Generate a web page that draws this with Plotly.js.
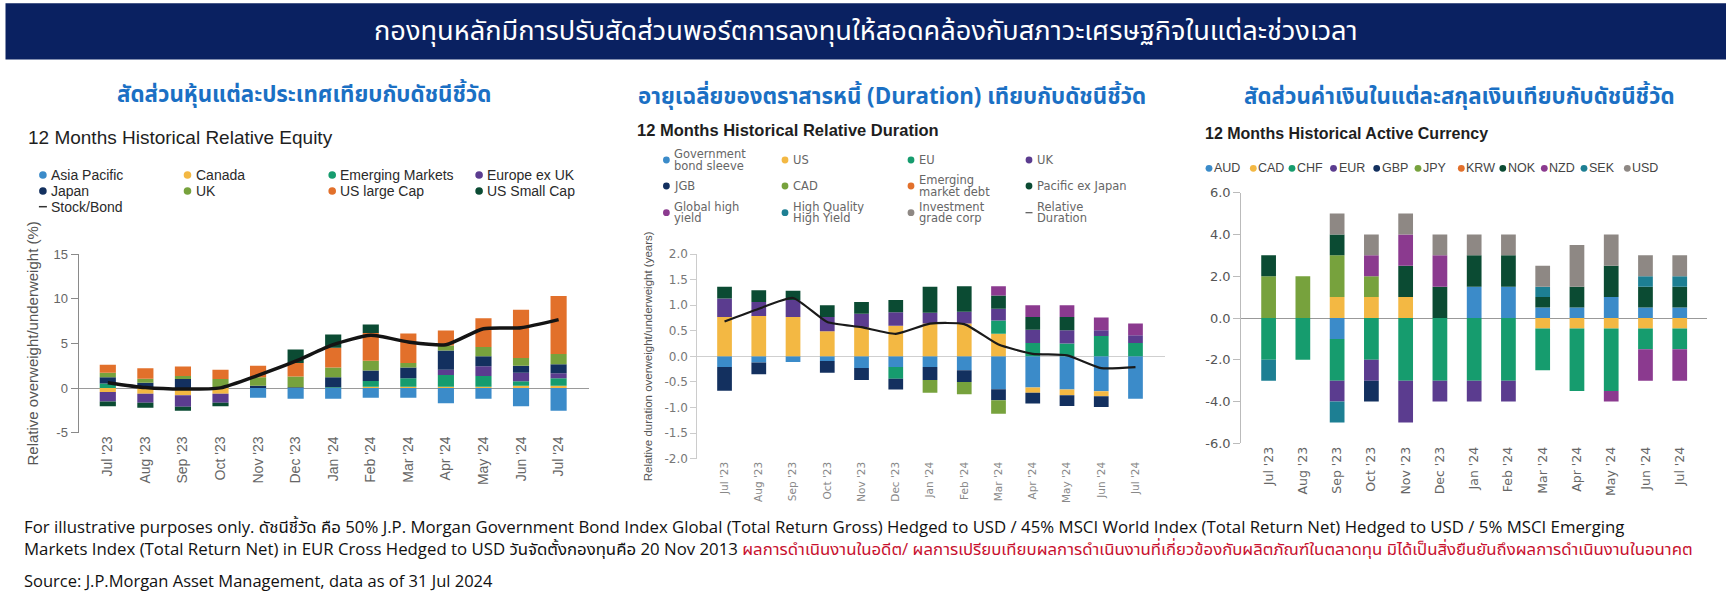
<!DOCTYPE html>
<html>
<head>
<meta charset="utf-8">
<script src="https://cdn.plot.ly/plotly-3.0.1.min.js"></script>
<style>
html,body{margin:0;padding:0;background:#ffffff;}
#chart{width:1732px;height:592px;}
</style>
</head>
<body>
<div id="chart"></div>
<script>
// ---------------- DATA ----------------
const months = ["Jul '23","Aug '23","Sep '23","Oct '23","Nov '23","Dec '23","Jan '24","Feb '24","Mar '24","Apr '24","May '24","Jun '24","Jul '24"];

// Chart 1: 12 Months Historical Relative Equity (%)
const eqNames = ["Asia Pacific","Canada","Emerging Markets","Europe ex UK","Japan","UK","US large Cap","US Small Cap"];
const eqAsiaPacific = [0, 0, 0, 0, -1.1, -1.2, -1.2, -1.1, -1.1, -1.7, -1.2, -2.05, -2.55];
const eqCanada      = [-0.45, -0.65, -0.8, -0.65, 0, 0, 0, 0.15, 0.15, 0.15, 0.15, 0.25, 0.25];
const eqEmerging    = [0.5, 0, 0, 0, 0, 0, 0.1, 0.65, 0.95, 1.3, 1.2, 0.5, 0.85];
const eqEuropeExUK  = [-1.05, -1.0, -1.3, -1.0, 0, 0, 0, 0, 0, 0.6, 1.1, 0.95, 0.55];
const eqJapan       = [0.7, 0.6, 1.0, 0, 0.25, 0.1, 1.1, 1.15, 1.2, 2.15, 1.1, 0.8, 1.0];
const eqUK          = [0.5, 0.45, 0.35, 1.0, 0.95, 1.2, 1.1, 1.1, 0.5, 0.55, 1.05, 0.85, 1.15];
const eqUSLargeCap  = [0.9, 1.15, 1.05, 1.05, 1.3, 1.5, 2.2, 3.1, 3.3, 1.7, 3.2, 5.4, 6.5];
const eqUSSmallCap  = [-0.55, -0.55, -0.45, -0.4, 0, 1.5, 1.5, 0.95, 0, 0, 0, 0, 0];
const eqLineName = "Stock/Bond";
const eqStockBond   = [0.6, 0.05, -0.12, 0.02, 1.42, 3.0, 4.85, 5.9, 5.15, 4.85, 6.64, 6.75, 7.65];
const eqTickVals = [-5, 0, 5, 10, 15];
const eqTickText = ["-5", "0", "5", "10", "15"];

// Chart 2: 12 Months Historical Relative Duration (years)
const durNames = ["Government|bond sleeve","US","EU","UK","JGB","CAD","Emerging|market debt","Pacific ex Japan","Global high|yield","High Quality|High Yield","Investment|grade corp"];
const durGovSleeve = [-0.21, -0.12, -0.11, -0.09, -0.23, -0.21, -0.21, -0.27, -0.645, -0.61, -0.65, -0.68, -0.83];
const durUS        = [0.77, 0.79, 0.77, 0.49, 0.57, 0.6, 0.64, 0.64, 0.44, -0.1, -0.11, -0.1, 0];
const durEU        = [0, 0, 0, 0, 0, -0.23, 0, 0, 0.26, 0.26, 0.25, 0.4, 0.26];
const durUK        = [0.36, 0.27, 0.33, 0.28, 0.26, 0.26, 0.21, 0.23, 0.23, 0.26, 0.26, 0.11, 0.15];
const durJGB       = [-0.46, -0.23, 0, -0.23, -0.23, -0.21, -0.25, -0.23, -0.215, -0.21, -0.21, -0.21, 0];
const durCAD       = [0, 0, 0, 0, 0, 0, -0.25, -0.24, -0.26, 0, 0, 0, 0];
const durEMD       = [0, 0, 0, 0, 0, 0, 0, 0, 0, 0, 0, 0, 0];
const durPacExJp   = [0.23, 0.23, 0.18, 0.23, 0.23, 0.24, 0.51, 0.5, 0.26, 0.25, 0.26, 0, 0];
const durGlobalHY  = [0, 0, 0, 0, 0, 0, 0, 0, 0.18, 0.23, 0.23, 0.25, 0.23];
const durHQHY      = [0, 0, 0, 0, 0, 0, 0, 0, 0, 0, 0, 0, 0];
const durIGCorp    = [0, 0, 0, 0, 0, 0, 0, 0, 0, 0, 0, 0, 0];
const durLineName = "Relative|Duration";
const durRelative  = [0.68, 0.93, 1.14, 0.67, 0.57, 0.44, 0.64, 0.63, 0.23, 0.05, 0.02, -0.23, -0.21];
const durTickVals = [-2, -1.5, -1, -0.5, 0, 0.5, 1, 1.5, 2];
const durTickText = ["-2.0", "-1.5", "-1.0", "-0.5", "0.0", "0.5", "1.0", "1.5", "2.0"];

// Chart 3: 12 Months Historical Active Currency
const curNames = ["AUD","CAD","CHF","EUR","GBP","JPY","KRW","NOK","NZD","SEK","USD"];
const curAUD = [0, 0, -1, 0, 0, 0, 1.5, 1.5, 0.5, 0.5, 1.0, 0.5, 0.5];
const curCAD = [0, 0, 1, 1, 1, 0, 0, 0, -0.5, -0.5, -0.5, -0.5, -0.5];
const curCHF = [-2, -2, -2, -2, -3, -3, -3, -3, -2, -3, -3, -1, -1];
const curEUR = [0, 0, -1, -1, -2, -1, -1, -1, 0, 0, 0, 0, 0];
const curGBP = [0, 0, 0, -1, 0, 0, 0, 0, 0, 0, 0, 0, 0];
const curJPY = [2, 2, 2, 1, 0, 0, 0, 0, 0, 0, 0, 0, 0];
const curKRW = [0, 0, 0, 0, 0, 0, 0, 0, 0, 0, 0, 0, 0];
const curNOK = [1, 0, 1, 0, 1.5, 1.5, 1.5, 1.5, 0.5, 1.0, 1.5, 1.0, 1.0];
const curNZD = [0, 0, 0, 1, 1.5, 1.5, 0, 0, 0, 0, -0.5, -1.5, -1.5];
const curSEK = [-1, 0, -1, 0, 0, 0, 0, 0, 0.5, 0, 0, 0.5, 0.5];
const curUSD = [0, 0, 1, 1, 1, 1, 1, 1, 1, 2, 1.5, 1, 1];
const curTickVals = [-6, -4, -2, 0, 2, 4, 6];
const curTickText = ["-6.0", "-4.0", "-2.0", "0.0", "2.0", "4.0", "6.0"];

// Texts
const bannerText = "กองทุนหลักมีการปรับสัดส่วนพอร์ตการลงทุนให้สอดคล้องกับสภาวะเศรษฐกิจในแต่ละช่วงเวลา";
const subTitles = ["สัดส่วนหุ้นแต่ละประเทศเทียบกับดัชนีชี้วัด", "อายุเฉลี่ยของตราสารหนี้ (Duration) เทียบกับดัชนีชี้วัด", "สัดส่วนค่าเงินในแต่ละสกุลเงินเทียบกับดัชนีชี้วัด"];
const chartTitles = ["12 Months Historical Relative Equity", "12 Months Historical Relative Duration", "12 Months Historical Active Currency"];
const yTitles = ["Relative overweight/underweight (%)", "Relative duration overweight/underweight (years)"];
const footLine1 = "For illustrative purposes only. ดัชนีชี้วัด คือ 50% J.P. Morgan Government Bond Index Global (Total Return Gross) Hedged to USD / 45% MSCI World Index (Total Return Net) Hedged to USD / 5% MSCI Emerging";
const footLine2 = "Markets Index (Total Return Net) in EUR Cross Hedged to USD วันจัดตั้งกองทุนคือ 20 Nov 2013 ";
const footLine2Red = "ผลการดำเนินงานในอดีต/ ผลการเปรียบเทียบผลการดำเนินงานที่เกี่ยวข้องกับผลิตภัณฑ์ในตลาดทุน มิได้เป็นสิ่งยืนยันถึงผลการดำเนินงานในอนาคต";
const sourceText = "Source: J.P.Morgan Asset Management, data as of 31 Jul 2024";

// ---------------- STYLE ----------------
const W = 1732, H = 592;
const X = p => p / W;
const Y = p => 1 - p / H;
const FT = "Liberation Sans, Arial, sans-serif";
const FD = "DejaVu Sans, sans-serif";
const FTH = "Noto Sans Thai, Noto Sans, Open Sans, sans-serif";
const FOOT = "Open Sans, Noto Sans Thai, Noto Sans, sans-serif";

const C = {
  blue:'#3b8bc9', yellow:'#f3b843', green:'#169c6e', purple:'#5b3c8f', navy:'#13305f',
  olive:'#77a23d', orange:'#e2702b', dkgreen:'#0b4b33', magenta:'#8b3a8f', teal:'#1d7f93', gray:'#8e8884'
};
const eqColors  = [C.blue, C.yellow, C.green, C.purple, C.navy, C.olive, C.orange, C.dkgreen];
const durColors = [C.blue, C.yellow, C.green, C.purple, C.navy, C.olive, C.orange, C.dkgreen, C.magenta, C.teal, C.gray];
const curColors = [C.blue, C.yellow, C.green, C.purple, C.navy, C.olive, C.orange, C.dkgreen, C.magenta, C.teal, C.gray];

const eqValues  = [eqAsiaPacific, eqCanada, eqEmerging, eqEuropeExUK, eqJapan, eqUK, eqUSLargeCap, eqUSSmallCap];
const durValues = [durGovSleeve, durUS, durEU, durUK, durJGB, durCAD, durEMD, durPacExJp, durGlobalHY, durHQHY, durIGCorp];
const curValues = [curAUD, curCAD, curCHF, curEUR, curGBP, curJPY, curKRW, curNOK, curNZD, curSEK, curUSD];

const traces = [];
function addBars(names, values, colors, xa, ya) {
  names.forEach((n, i) => {
    traces.push({
      type:'bar', x: months, y: values[i], name: n.replace('|', ' '),
      marker:{color: colors[i], line:{width:0}},
      xaxis: xa, yaxis: ya, showlegend:false,
      hovertemplate: '%{x}<br>' + n.replace('|', ' ') + ': %{y}<extra></extra>'
    });
  });
}
addBars(eqNames, eqValues, eqColors, 'x', 'y');
traces.push({type:'scatter', mode:'lines', x: months, y: eqStockBond, name: eqLineName,
  line:{color:'#141414', width:3.5, shape:'spline', smoothing:0.6}, xaxis:'x', yaxis:'y', showlegend:false});
addBars(durNames, durValues, durColors, 'x2', 'y2');
traces.push({type:'scatter', mode:'lines', x: months, y: durRelative, name: durLineName.replace('|',' '),
  line:{color:'#1a1a1a', width:2.2, shape:'spline', smoothing:0.5}, xaxis:'x2', yaxis:'y2', showlegend:false});
addBars(curNames, curValues, curColors, 'x3', 'y3');

// ---------------- LAYOUT ----------------
const shapes = [];
const annotations = [];

// banner
shapes.push({type:'rect', xref:'paper', yref:'paper', x0:X(5.5), x1:X(1726), y0:Y(59.6), y1:Y(3.3),
  fillcolor:'#0a2161', line:{width:0}, layer:'below'});
annotations.push({xref:'paper', yref:'paper', x:X(866), y:Y(31), xanchor:'center', yanchor:'middle',
  text: bannerText, showarrow:false, font:{family:FTH, size:27.2, color:'#ffffff'}});

// subtitles
const subX = [303.5, 891.5, 1459];
const subY = [95.5, 96.5, 96.5];
subTitles.forEach((t, i) => annotations.push({xref:'paper', yref:'paper', x:X(subX[i]), y:Y(subY[i]),
  xanchor:'center', yanchor:'middle', text:'<b>' + t + '</b>', showarrow:false,
  font:{family:FTH, size:22.3, color:'#1b70c4'}}));

// chart titles
const ctX = [26.5, 636, 1203.5];
const ctY = [137.5, 129.5, 134];
const ctSize = [19, 16.5, 16];
const ctBold = [false, true, true];
chartTitles.forEach((t, i) => annotations.push({xref:'paper', yref:'paper', x:X(ctX[i]), y:Y(ctY[i]),
  xanchor:'left', yanchor:'middle', text: ctBold[i] ? '<b>' + t + '</b>' : t, showarrow:false, borderpad:0,
  font:{family:FT, size:ctSize[i], color:'#1e1e1e'}}));

// legend helpers
function legendDot(xp, yp, color, r) {
  shapes.push({type:'circle', xref:'paper', yref:'paper', xsizemode:'pixel', ysizemode:'pixel',
    xanchor:X(xp), yanchor:Y(yp), x0:-r, x1:r, y0:-r, y1:r, fillcolor:color, line:{width:0}});
}
function legendDash(xp, yp, len, color, w) {
  shapes.push({type:'line', xref:'paper', yref:'paper', x0:X(xp - len/2), x1:X(xp + len/2), y0:Y(yp), y1:Y(yp),
    line:{color:color, width:w}});
}
function legendLabel(xp, yp, text, font, lineGap) {
  const parts = text.split('|');
  parts.forEach((p, k) => {
    const off = (k - (parts.length - 1) / 2) * lineGap;
    annotations.push({xref:'paper', yref:'paper', x:X(xp), y:Y(yp + off), xanchor:'left', yanchor:'middle',
      text:p, showarrow:false, borderpad:0, font:font});
  });
}

// equity legend (4 columns)
const eqColX = [42.9, 187.5, 332.2, 479.1];
const eqRowY = [175, 191, 206.7];
const eqFont = {family:FT, size:14, color:'#2a2a2a'};
eqNames.forEach((n, i) => {
  const cx = eqColX[i % 4], cy = eqRowY[Math.floor(i / 4)];
  legendDot(cx, cy, eqColors[i], 3.8);
  legendLabel(cx + 7, cy, n, eqFont, 14);
});
legendDash(eqColX[0], eqRowY[2], 8, '#333', 1.5);
legendLabel(eqColX[0] + 7, eqRowY[2], eqLineName, eqFont, 14);

// duration legend (4 columns x 3 rows)
const durColX = [666.4, 785, 911, 1029];
const durRowY = [160, 186, 212.7];
const durFont = {family:FD, size:11.5, color:'#666666'};
durNames.forEach((n, i) => {
  const cx = durColX[i % 4], cy = durRowY[Math.floor(i / 4)];
  legendDot(cx, cy, durColors[i], 3.4);
  legendLabel(cx + 7, cy, n, durFont, 11.5);
});
legendDash(durColX[3], durRowY[2], 7, '#555', 1.2);
legendLabel(durColX[3] + 7, durRowY[2], durLineName, durFont, 11.5);

// currency legend (one row)
const curDotX = [1209, 1253.3, 1292, 1333.5, 1376.7, 1418, 1461.3, 1502.8, 1544.3, 1584, 1627.3];
const curLegY = 168.3;
const curFont = {family:FT, size:12.5, color:'#444444'};
curNames.forEach((n, i) => {
  legendDot(curDotX[i], curLegY, curColors[i], 3.4);
  legendLabel(curDotX[i] + 4, curLegY, n, curFont, 12);
});

// footnotes
annotations.push({xref:'paper', yref:'paper', x:X(23), y:Y(526), xanchor:'left', yanchor:'middle', showarrow:false, borderpad:0,
  text: footLine1, font:{family:FOOT, size:16.8, color:'#111'}});
annotations.push({xref:'paper', yref:'paper', x:X(23), y:Y(548), xanchor:'left', yanchor:'middle', showarrow:false, borderpad:0,
  text: footLine2 + '<span style="color:#c8102e">' + footLine2Red + '</span>', font:{family:FOOT, size:16.8, color:'#111'}});
annotations.push({xref:'paper', yref:'paper', x:X(23), y:Y(580), xanchor:'left', yanchor:'middle', showarrow:false, borderpad:0,
  text: sourceText, font:{family:FOOT, size:16.5, color:'#111'}});

const xCommon = {type:'category', showgrid:false, zeroline:false, showline:false, ticks:'', tickangle:-90, fixedrange:true};
const yCommon = {showgrid:false, ticks:'outside', showline:true, linewidth:1, zeroline:true, zerolinewidth:1, fixedrange:true, tickmode:'array'};

const layout = {
  width:W, height:H, margin:{l:0, r:0, t:0, b:0},
  paper_bgcolor:'#ffffff', plot_bgcolor:'rgba(0,0,0,0)',
  barmode:'relative', bargap:0.57, showlegend:false,
  xaxis: Object.assign({}, xCommon, {domain:[X(78.5), X(589.4)], range:[-0.78, 12.82], anchor:'y',
    tickfont:{family:FT, size:14, color:'#666'}}),
  yaxis: Object.assign({}, yCommon, {domain:[Y(432.7), Y(254)], range:[-5, 15], anchor:'x',
    tickvals:eqTickVals, ticktext:eqTickText, ticklen:7, tickcolor:'#8a8a8a', linecolor:'#8a8a8a', zerolinecolor:'#9a9a9a',
    tickfont:{family:FT, size:13, color:'#666'},
    title:{text:yTitles[0], font:{family:FT, size:15, color:'#555'}, standoff:11}}),
  xaxis2: Object.assign({}, xCommon, {domain:[X(696.8), X(1164.6)], range:[-0.81, 12.85], anchor:'y2',
    tickfont:{family:FD, size:10.5, color:'#888'}}),
  yaxis2: Object.assign({}, yCommon, {domain:[Y(458.7), Y(254)], range:[-2, 2], anchor:'x2',
    tickvals:durTickVals, ticktext:durTickText, ticklen:5.5, tickcolor:'#cccccc', linecolor:'#cccccc', zerolinecolor:'#cfcfcf',
    tickfont:{family:FD, size:12, color:'#777'},
    title:{text:yTitles[1], font:{family:FT, size:11.5, color:'#555'}, standoff:9}}),
  xaxis3: Object.assign({}, xCommon, {domain:[X(1241.2), X(1706.8)], range:[-0.8, 12.79], anchor:'y3',
    tickfont:{family:FD, size:12.5, color:'#666'}}),
  yaxis3: Object.assign({}, yCommon, {domain:[Y(443.3), Y(192.7)], range:[-6, 6], anchor:'x3',
    tickvals:curTickVals, ticktext:curTickText, ticklen:7, tickcolor:'#bbbbbb', linecolor:'#bbbbbb', zerolinecolor:'#999999',
    tickfont:{family:FD, size:13, color:'#555'}}),
  shapes: shapes,
  annotations: annotations
};

Plotly.newPlot('chart', traces, layout, {displayModeBar:false, staticPlot:true});
</script>
</body>
</html>
